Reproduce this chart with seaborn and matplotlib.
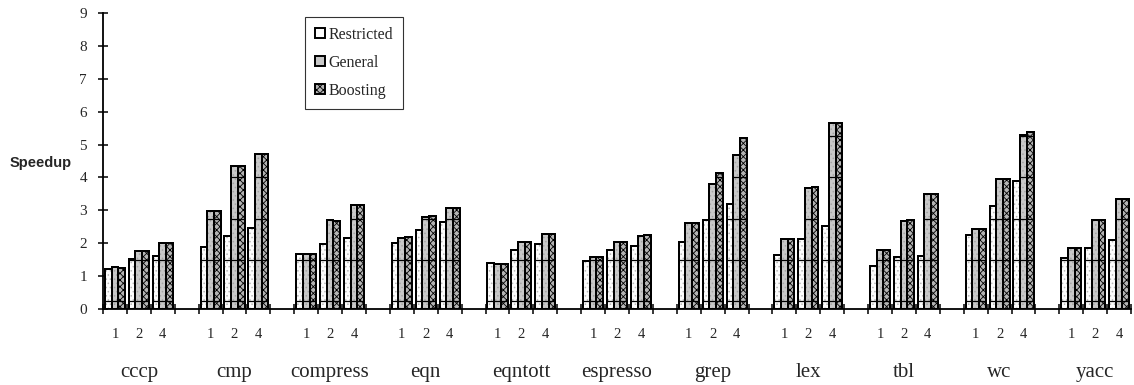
import pandas as pd
import seaborn as sns
import matplotlib.pyplot as plt
from matplotlib.colors import to_hex
from matplotlib.patches import Rectangle

# Speedup per benchmark, issue width 1 / 2 / 4
benchmarks = ['cccp', 'cmp', 'compress', 'eqn', 'eqntott', 'espresso',
              'grep', 'lex', 'tbl', 'wc', 'yacc']
widths = ['1', '2', '4']
schemes = ['Restricted', 'General', 'Boosting']

restricted = [1.21, 1.53, 1.62,  1.90, 2.23, 2.47,  1.66, 1.98, 2.15,
              2.00, 2.40, 2.64,  1.41, 1.79, 1.98,  1.45, 1.78, 1.91,
              2.04, 2.71, 3.20,  1.63, 2.13, 2.51,  1.32, 1.57, 1.61,
              2.25, 3.13, 3.88,  1.55, 1.86, 2.10]
general = [1.28, 1.77, 2.00,  2.97, 4.35, 4.72,  1.68, 2.71, 3.15,
           2.17, 2.81, 3.06,  1.37, 2.03, 2.28,  1.58, 2.03, 2.23,
           2.61, 3.79, 4.67,  2.13, 3.69, 5.66,  1.80, 2.69, 3.50,
           2.44, 3.96, 5.29,  1.84, 2.71, 3.34]
boosting = [1.26, 1.77, 2.00,  2.99, 4.35, 4.72,  1.66, 2.69, 3.15,
            2.20, 2.84, 3.08,  1.37, 2.03, 2.28,  1.58, 2.05, 2.25,
            2.61, 4.15, 5.21,  2.13, 3.72, 5.66,  1.80, 2.71, 3.50,
            2.44, 3.94, 5.37,  1.84, 2.71, 3.34]

# horizontal rules that show through the bars in the original
inner_levels = [0.25, 1.5, 2.75, 4.0, 5.25]

# build long table; each benchmark takes 3 slots + 1 empty slot
rows = []
for name, vals in zip(schemes, [restricted, general, boosting]):
    for i, v in enumerate(vals):
        b, j = divmod(i, 3)
        rows.append({'slot': 4 * b + j, 'scheme': name, 'speedup': v})
df = pd.DataFrame(rows)
n_slots = 4 * len(benchmarks) - 1

sns.set_theme(style='ticks')
plt.rcParams['font.family'] = ['Liberation Serif', 'DejaVu Serif']
plt.rcParams['hatch.linewidth'] = 0.6

palette = {'Restricted': '#fcfcfc', 'General': '#c8c8c8', 'Boosting': '#b4b4b4'}
# faint dotted texture drawn as an overlay (hatch colour = overlay edge colour)
dots = {'Restricted': '#b8b8b8', 'General': '#a4a4a4'}

fig = plt.figure(figsize=(11.34, 3.85), dpi=100)
ax = fig.add_axes([0.0908, 0.1974, 0.9066, 0.7688])

sns.barplot(data=df, x='slot', y='speedup', hue='scheme', hue_order=schemes,
            order=list(range(n_slots)), palette=palette, width=0.84,
            saturation=1, legend=False, ax=ax, zorder=2)

color_to_scheme = {to_hex(c): s for s, c in palette.items()}
handles = {}
for p in list(ax.patches):
    s = color_to_scheme.get(to_hex(p.get_facecolor()))
    if s is None:
        continue
    p.set_edgecolor('black')
    p.set_linewidth(1.4)
    if s == 'Boosting':
        p.set_hatch('xxxxx')
    handles.setdefault(s, p)
    h = p.get_height()
    if h != h:
        continue
    x0, w = p.get_x(), p.get_width()
    if s in dots:
        ax.add_patch(Rectangle((x0, 0), w, h, fill=False, hatch='....',
                               edgecolor=dots[s], lw=0, zorder=2.2))
    for lvl in inner_levels:
        if lvl < h:
            ax.hlines(lvl, x0, x0 + w, color='black', lw=0.9, zorder=2.4)
    # outline on top of texture and rules
    ax.add_patch(Rectangle((x0, 0), w, h, fill=False, edgecolor='black',
                           lw=1.4, zorder=2.5))

ax.set_xlim(-0.5, n_slots - 0.5)
ax.set_ylim(0, 9)
ax.set_yticks(range(10))
ax.set_xticks(range(n_slots))
ax.set_xticklabels([widths[k % 4] if k % 4 < 3 else '' for k in range(n_slots)])
ax.set_xticks([k - 0.5 for k in range(n_slots + 1)], minor=True)
ax.tick_params(axis='x', which='major', length=0, pad=14, labelsize=10.5)
ax.tick_params(axis='x', which='minor', direction='inout', length=7, width=1.3)
ax.tick_params(axis='y', direction='inout', length=7, width=1.3, pad=8,
               labelsize=11)
ax.set_xlabel('')
ax.set_ylabel('')
sns.despine(ax=ax)
for side in ['left', 'bottom']:
    ax.spines[side].set_linewidth(1.3)
    ax.spines[side].set_color('black')

for b, name in enumerate(benchmarks):
    ax.text(4 * b + 1, -0.213, name, transform=ax.get_xaxis_transform(),
            ha='center', va='center', fontsize=15)

fig.text(41 / 1134, 1 - 163 / 385, 'Speedup', ha='center', va='center',
         fontsize=10.5, fontweight='bold', family=['Liberation Sans', 'DejaVu Sans'])

leg = ax.legend([handles[s] for s in schemes], schemes, loc='upper left',
                bbox_to_anchor=(0.197, 0.985), fontsize=11.5, frameon=True,
                fancybox=False, edgecolor='black', handlelength=0.6,
                handleheight=0.6, handletextpad=0.25, labelspacing=0.75,
                borderpad=0.6, borderaxespad=0)
leg.get_frame().set_linewidth(0.8)

fig.savefig('out.png', dpi=100)
